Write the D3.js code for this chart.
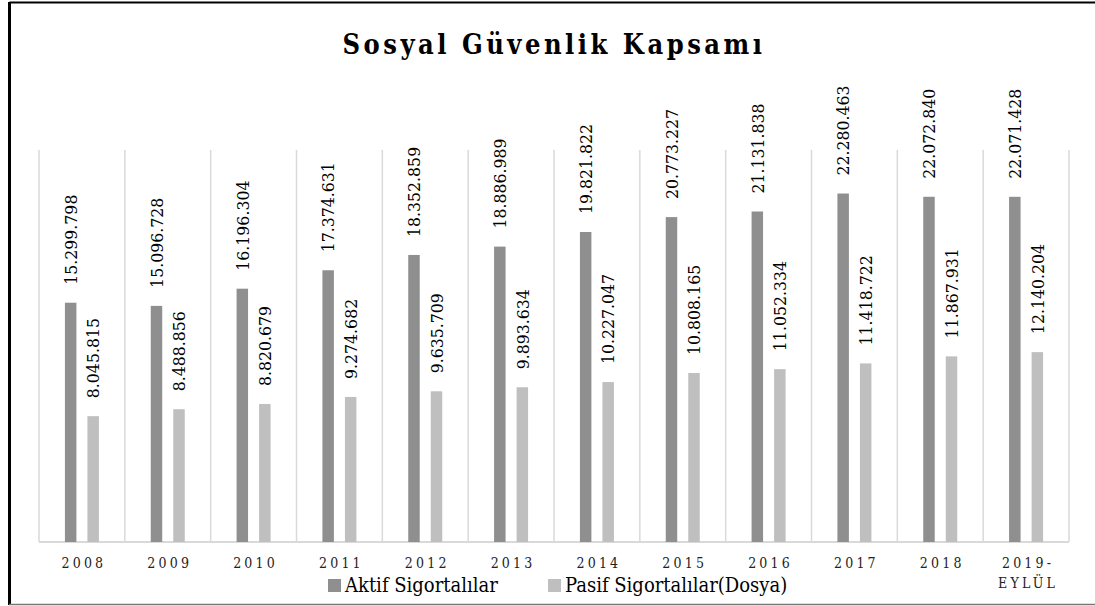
<!DOCTYPE html>
<html>
<head>
<meta charset="utf-8">
<script src="https://cdn.jsdelivr.net/npm/d3@7"></script>
<style>
  body { margin: 0; background: #fff; }
</style>
</head>
<body>
<div id="chart"></div>
<script>
// Daten
var years = ["2008", "2009", "2010", "2011", "2012", "2013", "2014", "2015", "2016", "2017", "2018", "2019-EYLÜL"];
var aktif = [15299798, 15096728, 16196304, 17374631, 18352859, 18886989, 19821822, 20773227, 21131838, 22280463, 22072840, 22071428];
var pasif = [8045815, 8488856, 8820679, 9274682, 9635709, 9893634, 10227047, 10808165, 11052334, 11418722, 11867931, 12140204];
var seriesNames = ["Aktif Sigortalılar", "Pasif Sigortalılar(Dosya)"];
var colors = ["#8f8f8f", "#bfbfbf"];

var W = 1095, H = 606;
var margin = {top: 150, right: 26, bottom: 64, left: 39};
var serif = "DejaVu Serif Condensed, DejaVu Serif";

var svg = d3.select("#chart").append("svg")
    .attr("width", W)
    .attr("height", H)
    .attr("font-family", serif);

// Rahmen
svg.append("line").attr("x1", 9.5).attr("x2", W).attr("y1", 2.5).attr("y2", 2.5)
    .attr("stroke", "#000").attr("stroke-width", 2);
svg.append("line").attr("x1", 9.5).attr("x2", 9.5).attr("y1", 2).attr("y2", 605)
    .attr("stroke", "#000").attr("stroke-width", 3);
svg.append("line").attr("x1", 9).attr("x2", W).attr("y1", 604.5).attr("y2", 604.5)
    .attr("stroke", "#777").attr("stroke-width", 1.5);

// Titel
svg.append("text")
    .attr("x", 554)
    .attr("y", 54)
    .attr("text-anchor", "middle")
    .style("font-size", "27px")
    .style("font-weight", "bold")
    .style("letter-spacing", "3.5px")
    .text("Sosyal Güvenlik Kapsamı");

var x = d3.scaleBand()
    .domain(years)
    .range([margin.left, W - margin.right])
    .padding(0);

var x1 = d3.scaleBand()
    .domain([0, 1])
    .range([x.bandwidth() / 2 - 17, x.bandwidth() / 2 + 17])
    .paddingInner(0.49);

var y = d3.scaleLinear()
    .domain([0, 25000000])
    .range([H - margin.bottom, margin.top + 1]);

// vertikale Gitterlinien
svg.append("g")
    .selectAll("line")
    .data(d3.range(years.length + 1))
    .enter()
    .append("line")
    .attr("x1", i => margin.left + i * x.step())
    .attr("x2", i => margin.left + i * x.step())
    .attr("y1", margin.top)
    .attr("y2", y(0))
    .attr("stroke", "#d9d9d9")
    .attr("stroke-width", 1.5);

// Grundlinie
svg.append("line")
    .attr("x1", margin.left).attr("x2", W - margin.right)
    .attr("y1", y(0)).attr("y2", y(0))
    .attr("stroke", "#d9d9d9").attr("stroke-width", 2);

var rows = years.map((yr, i) => ({year: yr, values: [aktif[i], pasif[i]]}));

var groups = svg.append("g")
    .selectAll("g")
    .data(rows)
    .enter()
    .append("g")
    .attr("transform", d => "translate(" + x(d.year) + ",0)");

groups.selectAll("rect")
    .data(d => d.values.map((v, k) => ({k: k, v: v})))
    .enter()
    .append("rect")
    .attr("x", d => x1(d.k))
    .attr("width", x1.bandwidth())
    .attr("y", d => y(d.v))
    .attr("height", d => y(0) - y(d.v))
    .attr("fill", d => colors[d.k]);

// Werte-Beschriftungen (gedreht)
var fmt = v => d3.format(",")(v).replace(/,/g, ".");
groups.selectAll("text.val")
    .data(d => d.values.map((v, k) => ({k: k, v: v})))
    .enter()
    .append("text")
    .attr("class", "val")
    .attr("transform", d => {
        var cx = x1(d.k) + x1.bandwidth() / 2;
        var cy = y(d.v) - 18;
        return "translate(" + cx + "," + cy + ") rotate(-90)";
    })
    .attr("dy", "0.36em")
    .style("font-size", "17.5px")
    .style("fill", "#000")
    .text(d => fmt(d.v));

// X-Achsen-Beschriftungen
var xl = svg.append("g")
    .selectAll("text")
    .data(years)
    .enter()
    .append("text")
    .attr("x", d => x(d) + x.bandwidth() / 2 + 2)
    .attr("y", 568)
    .attr("text-anchor", "middle")
    .style("font-size", "14px")
    .style("letter-spacing", "3.2px")
    .style("fill", "#222");

xl.each(function(d) {
    var parts = d.indexOf("-") > 0 ? [d.split("-")[0] + "-", d.split("-")[1]] : [d];
    var t = d3.select(this);
    parts.forEach((p, i) => {
        t.append("tspan")
            .attr("x", x(d) + x.bandwidth() / 2 + 2)
            .attr("dy", i === 0 ? 0 : 20)
            .text(p);
    });
});

// Legende
var legendX = [328, 548];
var legend = svg.append("g")
    .selectAll("g")
    .data(seriesNames)
    .enter()
    .append("g")
    .attr("transform", (d, i) => "translate(" + legendX[i] + ",579)");

legend.append("rect")
    .attr("width", 13)
    .attr("height", 13)
    .attr("fill", (d, i) => colors[i]);

legend.append("text")
    .attr("x", 17)
    .attr("y", 13)
    .style("font-size", "20px")
    .text(d => d);
</script>
</body>
</html>
